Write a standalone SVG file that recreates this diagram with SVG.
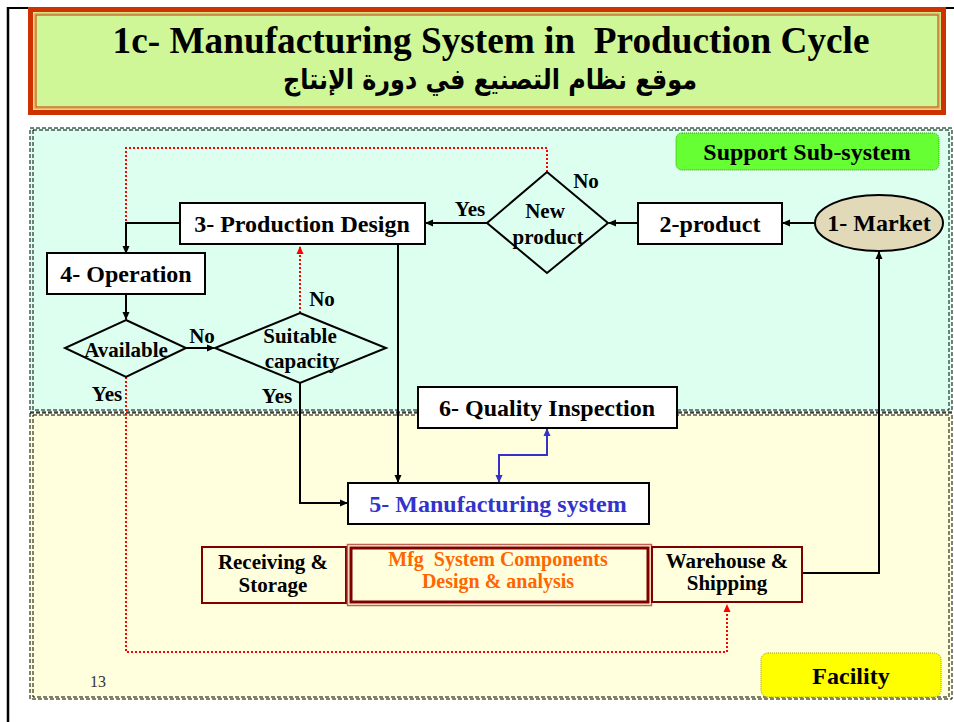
<svg xmlns="http://www.w3.org/2000/svg" width="954" height="722" viewBox="0 0 954 722">
<defs>
<marker id="ah" markerWidth="8" markerHeight="8" refX="7" refY="4" orient="auto" markerUnits="userSpaceOnUse"><path d="M0,0.5 L8,4 L0,7.5 Z" fill="#000"/></marker>
<marker id="ahr" markerWidth="8" markerHeight="8" refX="7" refY="4" orient="auto" markerUnits="userSpaceOnUse"><path d="M0,0.5 L8,4 L0,7.5 Z" fill="#ff0000"/></marker>
<marker id="ahb" markerWidth="8" markerHeight="8" refX="7" refY="4" orient="auto" markerUnits="userSpaceOnUse"><path d="M0,0.5 L8,4 L0,7.5 Z" fill="#3333cc"/></marker>
</defs>
<style>
.t{font-family:"Liberation Serif","Times New Roman",serif;font-weight:bold;fill:#000;text-anchor:middle}
.box{fill:#fff;stroke:#000;stroke-width:2}
.dia{fill:none;stroke:#000;stroke-width:2}
.fbox{fill:#ffffdd;stroke:#800000;stroke-width:2}
.reg{stroke:#000;stroke-width:1;stroke-dasharray:4,2}
.c{fill:none;stroke:#000;stroke-width:2}
.r{fill:none;stroke:#ff0000;stroke-width:2;stroke-dasharray:2,2}
</style>
<rect width="954" height="722" fill="#fff"/>
<!-- slide frame -->
<line x1="7" y1="8" x2="954" y2="8" stroke="#000" stroke-width="2"/>
<line x1="8" y1="7" x2="8" y2="722" stroke="#000" stroke-width="2.5"/>
<!-- title -->
<g id="title">
<rect x="30.5" y="9.5" width="913" height="103" fill="#cff797" stroke="#cc3300" stroke-width="5"/>
<rect x="34.5" y="13.5" width="905" height="95" fill="none" stroke="#e8b060" stroke-width="1.5"/>
<rect x="36" y="15" width="902" height="92" fill="none" stroke="#cc3300" stroke-width="1"/>
<text class="t" x="491" y="53" font-size="38" textLength="757" lengthAdjust="spacingAndGlyphs">1c- Manufacturing System in&#160; Production Cycle</text>
<text x="490" y="89" font-size="28" font-weight="bold" text-anchor="middle" font-family="'DejaVu Sans','Noto Sans',sans-serif" textLength="414" lengthAdjust="spacingAndGlyphs">موقع نظام التصنيع في دورة الإنتاج</text>
</g>
<!-- regions -->
<g id="support-region">
<rect x="30" y="128" width="922" height="284" fill="#ddfff0"/>
<rect x="30" y="128" width="922" height="284" fill="none" class="reg"/>
<rect x="33" y="130" width="916" height="280" fill="none" class="reg"/>
</g>
<g id="facility-region">
<rect x="30" y="413" width="922" height="286" fill="#ffffdd"/>
<rect x="30" y="413" width="922" height="286" fill="none" class="reg"/>
<rect x="33" y="415" width="916" height="282" fill="none" class="reg"/>
</g>
<g id="support-label">
<rect x="676" y="133" width="263" height="37" rx="6" fill="#66ff33" stroke="#339900" stroke-width="1" stroke-dasharray="1,1"/>
<text class="t" x="807" y="160" font-size="24">Support Sub-system</text>
</g>
<g id="facility-label">
<rect x="761" y="653" width="180" height="44" rx="7" fill="#ffff00" stroke="#999900" stroke-width="1" stroke-dasharray="1,1"/>
<text class="t" x="851" y="684" font-size="24">Facility</text>
</g>
<text x="98" y="687" font-size="16" fill="#333" text-anchor="middle" font-family="'Liberation Serif',serif">13</text>
<!-- connectors -->
<g id="connectors">
<path class="r" d="M547,172 V148 H126 V253"/>
<path class="r" d="M300,313 V247" marker-end="url(#ahr)"/>
<path class="r" d="M126,377 V652 H727 V605" marker-end="url(#ahr)"/>
<path class="c" d="M815,223 H783" marker-end="url(#ah)"/>
<path class="c" d="M638,223 H609" marker-end="url(#ah)"/>
<path class="c" d="M487,223 H426" marker-end="url(#ah)"/>
<path class="c" d="M180,223 H126 V253" marker-end="url(#ah)" stroke-width="1.5"/>
<path class="c" d="M126,294 V319" marker-end="url(#ah)"/>
<path class="c" d="M186,348 H214" marker-end="url(#ah)"/>
<path class="c" d="M300,383 V503 H347" marker-end="url(#ah)" stroke-width="1.5"/>
<path class="c" d="M398,244 V482" marker-end="url(#ah)"/>
<path class="c" d="M802,573 H879 V252" marker-end="url(#ah)"/>
<path d="M499,470 V455 H547 V440" fill="none" stroke="#3333cc" stroke-width="2"/>
<path d="M499,462 V482" fill="none" stroke="#3333cc" stroke-width="2" marker-end="url(#ahb)"/>
<path d="M547,450 V429" fill="none" stroke="#3333cc" stroke-width="2" marker-end="url(#ahb)"/>
<text class="t" x="470" y="216" font-size="21">Yes</text>
<text class="t" x="586" y="188" font-size="21">No</text>
<text class="t" x="322" y="306" font-size="21">No</text>
<text class="t" x="202" y="343" font-size="21">No</text>
<text class="t" x="107" y="401" font-size="21">Yes</text>
<text class="t" x="277" y="403" font-size="21">Yes</text>
</g>
<!-- nodes -->
<g id="market">
<ellipse cx="879" cy="223" rx="64" ry="28" fill="#e2d9b8" stroke="#000" stroke-width="2"/>
<text class="t" x="879" y="231" font-size="24">1- Market</text>
</g>
<g id="product">
<rect class="box" x="638" y="203" width="144" height="41"/>
<text class="t" x="710" y="232" font-size="24">2-product</text>
</g>
<g id="new-product">
<polygon class="dia" points="547,172 608,223 547,273 487,223"/>
<text class="t" x="545" y="218" font-size="21">New</text>
<text class="t" x="548" y="244" font-size="21">product</text>
</g>
<g id="production-design">
<rect class="box" x="180" y="203" width="245" height="41"/>
<text class="t" x="302" y="232" font-size="24">3- Production Design</text>
</g>
<g id="operation">
<rect class="box" x="47" y="253" width="158" height="41"/>
<text class="t" x="126" y="282" font-size="24">4- Operation</text>
</g>
<g id="available">
<polygon class="dia" points="126,320 186,348 126,377 65,348"/>
<text class="t" x="126" y="357" font-size="21">Available</text>
</g>
<g id="suitable-capacity">
<polygon class="dia" points="300,313 386,348 300,383 215,348"/>
<text class="t" x="300" y="343" font-size="21">Suitable</text>
<text class="t" x="302" y="368" font-size="21">capacity</text>
</g>
<g id="quality-inspection">
<rect class="box" x="418" y="387" width="259" height="41"/>
<text class="t" x="547" y="416" font-size="24">6- Quality Inspection</text>
</g>
<g id="manufacturing-system">
<rect class="box" x="348" y="483" width="301" height="41"/>
<text class="t" x="498" y="512" font-size="24" style="fill:#3333cc">5- Manufacturing system</text>
</g>
<g id="receiving-storage">
<rect class="fbox" x="202" y="547" width="144" height="56"/>
<text class="t" x="273" y="569" font-size="21">Receiving &amp;</text>
<text class="t" x="273" y="592" font-size="21">Storage</text>
</g>
<g id="mfg-components">
<rect x="347.5" y="544.5" width="304" height="61" fill="#ffffdd" stroke="#c06050" stroke-width="1.5"/>
<rect x="351" y="548" width="297" height="54" fill="none" stroke="#800000" stroke-width="3"/>
<text class="t" x="498" y="566" font-size="20" style="fill:#ff6600">Mfg&#160; System Components</text>
<text class="t" x="498" y="588" font-size="20" style="fill:#ff6600">Design &amp; analysis</text>
</g>
<g id="warehouse-shipping">
<rect class="fbox" x="652" y="547" width="150" height="55"/>
<text class="t" x="727" y="568" font-size="21">Warehouse &amp;</text>
<text class="t" x="727" y="590" font-size="21">Shipping</text>
</g>
</svg>
